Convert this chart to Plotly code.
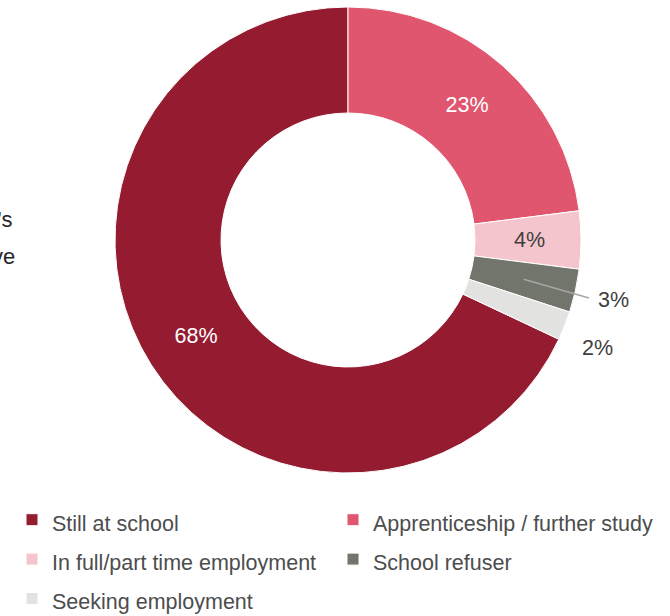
import math
import plotly.graph_objects as go

# Destination of students after leaving
categories = [
    "Still at school",
    "Apprenticeship / further study",
    "In full/part time employment",
    "School refuser",
    "Seeking employment",
]
values = [68, 23, 4, 3, 2]
colors = ["#951B30", "#E0566E", "#F5C5CE", "#72756B", "#E2E2E0"]

FONT = "Liberation Sans, Arial, Helvetica, sans-serif"
TXT = 21.5
W, H = 670, 616

# Donut geometry in pixels (centre and outer radius), converted to a paper domain
cx, cy, R = 348, 240, 233
hole = 0.545
dom_x = [(cx - R) / W, (cx + R) / W]
dom_y = [(H - cy - R) / H, (H - cy + R) / H]

# The first slice ends at 12 o'clock, so it starts after all the others
rotation = 360 * (sum(values) - values[0]) / sum(values)

# Large slices carry their own labels; the small ones are labelled below
text_pos = ["inside", "inside", "none", "none", "none"]

# Legend rows are spaced by a larger base font; the label itself is set smaller
legend_labels = [f'<span style="font-size:{TXT}px">{c}</span>' for c in categories]

fig = go.Figure(
    go.Pie(
        labels=legend_labels,
        values=values,
        hole=hole,
        sort=False,
        direction="clockwise",
        rotation=rotation,
        domain=dict(x=dom_x, y=dom_y),
        marker=dict(colors=colors, line=dict(color="white", width=1)),
        texttemplate="%{value}%",
        textposition=text_pos,
        insidetextorientation="horizontal",
        textfont=dict(family=FONT, size=TXT, color="white"),
        hovertemplate="%{label}: %{value}%<extra></extra>",
    )
)


def slice_mid_angle(i):
    """Clockwise angle from 12 o'clock (degrees) of the middle of slice i."""
    total = sum(values)
    start = rotation + 360 * sum(values[:i]) / total
    return (start + 180 * values[i] / total) % 360


def to_paper(angle_deg, r_px):
    a = math.radians(angle_deg)
    px = cx + r_px * math.sin(a)
    py = cy - r_px * math.cos(a)
    return px / W, 1 - py / H


label_font = dict(family=FONT, size=TXT, color="#404040")
annotations = []
shapes = []

# Employment slice: label in the middle of the ring
x2, y2 = to_paper(slice_mid_angle(2), 181)
annotations.append(dict(text=f"{values[2]}%", xref="paper", yref="paper",
                        x=x2, y=y2, xanchor="center", yanchor="middle",
                        showarrow=False, font=label_font))

# School refuser slice: outside label with a leader line
x0, y0 = to_paper(slice_mid_angle(3), 180)
lx, ly = 589 / W, 1 - 298 / H
shapes.append(dict(type="line", xref="paper", yref="paper", x0=x0, y0=y0,
                   x1=lx, y1=ly, line=dict(color="#A6A6A6", width=1.5)))
annotations.append(dict(text=f"{values[3]}%", xref="paper", yref="paper",
                        x=596 / W, y=1 - 300 / H, xanchor="left", yanchor="middle",
                        showarrow=False, font=label_font))

# Seeking employment slice: outside label
x4, y4 = to_paper(slice_mid_angle(4), 268)
annotations.append(dict(text=f"{values[4]}%", xref="paper", yref="paper",
                        x=x4, y=y4, xanchor="center", yanchor="middle",
                        yshift=-9, showarrow=False, font=label_font))

# Tail of the adjacent paragraph text
para_font = dict(family=FONT, size=22, color="#262626")
annotations.append(dict(text="’s", xref="paper", yref="paper", x=14.5 / W,
                        y=1 - 219 / H, xanchor="right", yanchor="middle",
                        showarrow=False, font=para_font))
annotations.append(dict(text="ve", xref="paper", yref="paper", x=16.5 / W,
                        y=1 - 256 / H, xanchor="right", yanchor="middle",
                        showarrow=False, font=para_font))

fig.update_layout(
    width=W,
    height=H,
    margin=dict(l=0, r=0, t=0, b=0, autoexpand=False),
    paper_bgcolor="white",
    plot_bgcolor="white",
    showlegend=True,
    legend=dict(
        orientation="h",
        x=12 / W,
        y=1 - 495 / H,
        xanchor="left",
        yanchor="top",
        entrywidth=276,
        entrywidthmode="pixels",
        font=dict(family=FONT, size=28, color="#4D4D4D"),
        traceorder="normal",
        itemclick=False,
    ),
    annotations=annotations,
    shapes=shapes,
)

fig.write_html("out.html")
